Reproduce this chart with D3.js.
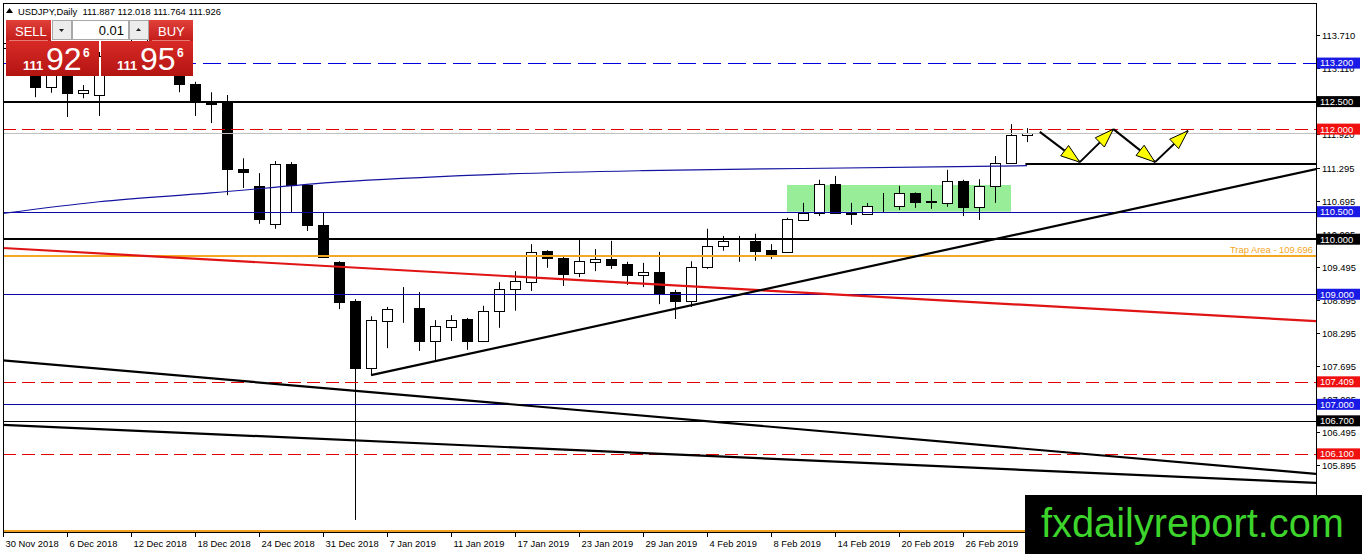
<!DOCTYPE html>
<html><head><meta charset="utf-8">
<script src="https://cdn.jsdelivr.net/npm/d3@7"></script>
<style>
body{margin:0;background:#fff;overflow:hidden;}
svg{display:block;}
text{font-family:Tahoma,"Liberation Sans",Arial,sans-serif;}
</style>
</head><body>
<svg id="c" width="1362" height="554"></svg>
<script>
// ---------------- DATA ----------------
const symbolTitle = "USDJPY,Daily";
const lastQuote = [111.887, 112.018, 111.764, 111.926];
const dates = ["30 Nov 2018","3 Dec 2018","4 Dec 2018","5 Dec 2018","6 Dec 2018","7 Dec 2018","10 Dec 2018","11 Dec 2018","12 Dec 2018","13 Dec 2018","14 Dec 2018","17 Dec 2018","18 Dec 2018","19 Dec 2018","20 Dec 2018","21 Dec 2018","24 Dec 2018","26 Dec 2018","27 Dec 2018","28 Dec 2018","31 Dec 2018","2 Jan 2019","3 Jan 2019","4 Jan 2019","7 Jan 2019","8 Jan 2019","9 Jan 2019","10 Jan 2019","11 Jan 2019","14 Jan 2019","15 Jan 2019","16 Jan 2019","17 Jan 2019","18 Jan 2019","21 Jan 2019","22 Jan 2019","23 Jan 2019","24 Jan 2019","25 Jan 2019","28 Jan 2019","29 Jan 2019","30 Jan 2019","31 Jan 2019","1 Feb 2019","4 Feb 2019","5 Feb 2019","6 Feb 2019","7 Feb 2019","8 Feb 2019","11 Feb 2019","12 Feb 2019","13 Feb 2019","14 Feb 2019","15 Feb 2019","18 Feb 2019","19 Feb 2019","20 Feb 2019","21 Feb 2019","22 Feb 2019","25 Feb 2019","26 Feb 2019","27 Feb 2019","28 Feb 2019","1 Mar 2019","4 Mar 2019"];
const openP  = [113.47,113.60,113.63,112.77,113.18,112.66,112.62,113.32,113.38,113.53,113.61,113.35,112.82,112.51,112.47,111.28,110.97,110.28,111.37,110.98,110.26,109.58,108.88,107.66,108.51,108.73,108.75,108.15,108.40,108.55,108.15,108.70,109.10,109.22,109.79,109.66,109.39,109.59,109.64,109.55,109.35,109.41,109.04,108.88,109.50,109.88,109.97,109.97,109.81,109.77,110.35,110.48,111.00,110.48,110.46,110.62,110.61,110.84,110.68,110.66,111.06,110.59,110.97,111.39,111.887];
const highP  = [113.83,113.83,113.71,113.23,113.26,112.80,113.40,113.56,113.69,113.70,113.72,113.45,112.86,112.67,112.62,111.47,111.20,111.42,111.40,111.00,110.49,109.60,108.91,108.60,108.77,109.13,109.04,108.53,108.62,108.57,108.79,109.22,109.42,109.91,109.80,109.70,109.99,109.82,109.97,109.59,109.57,109.77,109.08,109.60,110.19,110.06,110.06,110.10,109.91,110.39,110.66,111.08,111.15,110.66,110.66,110.84,110.97,110.85,110.91,111.26,111.08,111.09,111.51,112.09,112.018];
const lowP   = [113.37,113.42,112.58,112.66,112.22,112.56,112.24,113.15,113.26,113.36,113.31,112.67,112.24,112.11,110.80,110.93,110.28,110.19,110.48,110.15,109.66,108.73,104.90,107.53,108.02,108.48,107.97,107.79,108.15,107.99,108.13,108.39,108.70,109.06,109.48,109.15,109.31,109.42,109.46,109.17,109.13,108.82,108.55,108.77,109.46,109.79,109.59,109.61,109.64,109.75,110.34,110.42,110.47,110.26,110.45,110.48,110.53,110.57,110.55,110.59,110.42,110.35,110.66,111.37,111.764];
const closeP = [113.57,113.63,112.77,113.18,112.66,112.71,113.32,113.38,113.53,113.61,113.39,112.82,112.51,112.46,111.28,111.22,110.37,111.37,110.98,110.26,109.68,108.86,107.66,108.53,108.73,108.74,108.15,108.42,108.53,108.15,108.70,109.10,109.24,109.77,109.66,109.37,109.61,109.64,109.53,109.35,109.41,109.02,108.88,109.50,109.88,109.97,109.96,109.79,109.73,110.37,110.48,111.00,110.48,110.46,110.61,110.62,110.84,110.68,110.69,111.06,110.59,110.97,111.39,111.89,111.926];
const xLabelEvery = 4;
const xLabelCount = 16;
const yTickValues = [113.710,113.110,112.515,111.920,111.295,110.695,110.095,109.495,108.895,108.295,107.695,107.095,106.495,105.895,105.295];
// horizontal levels and their kind
const levelPrices = [113.200,112.500,112.000,111.926,110.500,110.000,109.696,109.000,107.409,107.000,106.700,106.100,104.700];
const levelKinds  = ["blueDash","black2","redDash","bid","blue","black2","trap","blue","redDash","blue","black1","redDash","orange"];
const trapLabel = "Trap Area - 109.696";
// moving average (bar index, price)
const maIndex = [-0.2, 6, 13, 21, 30, 40, 50, 64];
const maValues = [110.46, 110.68, 110.84, 111.04, 111.17, 111.245, 111.285, 111.335];
// trend lines [barIndex0, price0, barIndex1, price1]
const redTrend   = [0, 109.84, 80, 108.545];
const upTrend    = [23, 107.53, 82, 111.27];
const downTrend1 = [0, 107.80, 80, 105.787];
const downTrend2 = [0, 106.627, 80, 105.60];
// support line starting at bar index
const supportLine = [63.9, 111.37];
// consolidation box [barIndex0, barIndex1, priceLow, priceHigh]
const greenBox = [49, 63, 110.50, 110.985];
// projected path (bar index, price)
const pathIdx = [64.8, 67.3, 69.4, 72.0, 74.06];
const pathPrice = [111.95, 111.40, 112.00, 111.40, 111.97];
// trade panel
const lotSize = "0.01";
const sellQuote = ["111", "92", "6"];
const buyQuote  = ["111", "95", "6"];
const watermark = "fxdailyreport.com";

// ---------------- SCALES ----------------
const svg = d3.select("#c");
const P = {l:3, t:3, r:1316, b:532};
const x = d3.scaleLinear().domain([0, 60]).range([3, 963]);
const y = d3.scaleLinear().domain([113.71, 109.495]).range([35, 267]);
const idxLeft = x.invert(P.l - 2), idxRight = x.invert(P.r + 2);

svg.append("rect").attr("width",1362).attr("height",554).attr("fill","#fff");
const defs = svg.append("defs");
defs.append("clipPath").attr("id","plotClip").append("rect")
  .attr("x",P.l).attr("y",P.t).attr("width",P.r-P.l).attr("height",P.b-P.t);
const g = svg.append("g").attr("clip-path","url(#plotClip)");

// background green box
g.append("rect")
  .attr("x", x(greenBox[0])).attr("width", x(greenBox[1]) - x(greenBox[0]))
  .attr("y", y(greenBox[3])).attr("height", y(greenBox[2]) - y(greenBox[3]))
  .attr("fill", "#98ee98");

// candles
const candles = g.append("g");
const data = dates.map((d,i)=>({i, o:openP[i], h:highP[i], l:lowP[i], c:closeP[i]}));
data.forEach(d=>{
  const cx = Math.round(x(d.i)) + 0.5;
  candles.append("line").attr("x1",cx).attr("x2",cx)
    .attr("y1",y(d.h)).attr("y2",y(d.l)).attr("stroke","#000").attr("stroke-width",1);
  const top = Math.round(y(Math.max(d.o,d.c))) + 0.5;
  const bot = Math.round(y(Math.min(d.o,d.c))) + 0.5;
  const up = d.c > d.o;
  candles.append("rect").attr("x", cx-5).attr("width",10)
    .attr("y", top).attr("height", Math.max(0, bot-top))
    .attr("fill", up ? "#fff" : "#000").attr("stroke","#000").attr("stroke-width",1);
});

// horizontal levels
const kindStyle = {
  blueDash:{stroke:"#0000e0", w:1, dash:"18,7", box:"#1a1ae6", txt:"#fff"},
  black2:{stroke:"#000", w:2, dash:null, box:"#000", txt:"#fff"},
  redDash:{stroke:"#e00000", w:1, dash:"13,6", box:"#f01010", txt:"#fff"},
  bid:{stroke:"#c0c0c0", w:1, dash:null, box:null},
  blue:{stroke:"#0a0aa8", w:1, dash:null, box:"#1a1ae6", txt:"#fff"},
  black1:{stroke:"#000", w:1, dash:null, box:"#000", txt:"#fff"},
  trap:{stroke:"#f5a623", w:2, dash:null, box:null},
  orange:{stroke:"#f0a020", w:3, dash:null, box:null}
};
levelPrices.forEach((p,k)=>{
  const s = kindStyle[levelKinds[k]];
  const yy = s.w === 1 ? Math.round(y(p)) + 0.5 : Math.round(y(p));
  const ln = g.append("line").attr("x1",P.l).attr("x2",P.r).attr("y1",yy).attr("y2",yy)
    .attr("stroke",s.stroke).attr("stroke-width",s.w).attr("shape-rendering","crispEdges");
  if (s.dash) ln.attr("stroke-dasharray", s.dash);
});
g.append("text").attr("x", P.r - 3).attr("y", y(levelPrices[6]) - 3)
  .attr("text-anchor","end").attr("font-size",9.4).attr("fill","#f5a623").text(trapLabel);

// trend lines
function extLine(tl, i0, i1, color, w){
  const slope = (tl[3]-tl[1])/(tl[2]-tl[0]);
  const pAt = i => tl[1] + slope*(i - tl[0]);
  g.append("line").attr("x1",x(i0)).attr("y1",y(pAt(i0))).attr("x2",x(i1)).attr("y2",y(pAt(i1)))
    .attr("stroke",color).attr("stroke-width",w);
}
extLine(downTrend1, idxLeft, idxRight, "#000", 2.2);
extLine(downTrend2, idxLeft, idxRight, "#000", 2.2);
extLine(redTrend, idxLeft, idxRight, "#e01414", 2.2);
extLine(upTrend, upTrend[0], idxRight, "#000", 2.2);

// moving average
g.append("path").datum(maIndex.map((v,k)=>[v, maValues[k]]))
  .attr("d", d3.line().x(d=>x(d[0])).y(d=>y(d[1])).curve(d3.curveMonotoneX))
  .attr("fill","none").attr("stroke","#1414a0").attr("stroke-width",1.2);

// support line
g.append("line").attr("x1",x(supportLine[0])).attr("x2",P.r)
  .attr("y1",Math.round(y(supportLine[1]))).attr("y2",Math.round(y(supportLine[1])))
  .attr("stroke","#000").attr("stroke-width",2.2);

// projected arrows
for (let k=0;k<pathIdx.length-1;k++){
  const x0=x(pathIdx[k]), y0=y(pathPrice[k]), x1=x(pathIdx[k+1]), y1=y(pathPrice[k+1]);
  g.append("line").attr("x1",x0).attr("y1",y0).attr("x2",x1).attr("y2",y1)
    .attr("stroke","#000").attr("stroke-width",2);
  const ang = Math.atan2(y1-y0, x1-x0);
  const L=19, Wd=6.5;
  const bx = x1 - L*Math.cos(ang), by = y1 - L*Math.sin(ang);
  const px = -Math.sin(ang), py = Math.cos(ang);
  const pts = [[x1,y1],[bx+px*Wd,by+py*Wd],[bx-px*Wd,by-py*Wd]];
  g.append("polygon").attr("points", pts.map(p=>p.join(",")).join(" "))
    .attr("fill","#ffff00").attr("stroke","#000").attr("stroke-width",1);
}

// frame
svg.append("rect").attr("x",P.l+0.5).attr("y",P.t+0.5).attr("width",P.r-P.l).attr("height",P.b-P.t)
  .attr("fill","none").attr("stroke","#000").attr("stroke-width",1);

// y axis ticks
const ya = svg.append("g");
yTickValues.forEach(v=>{
  const yy = Math.round(y(v))+0.5;
  ya.append("line").attr("x1",P.r).attr("x2",P.r+4).attr("y1",yy).attr("y2",yy).attr("stroke","#000");
  ya.append("text").attr("x",P.r+6).attr("y",yy).attr("dy","0.35em").attr("font-size",9.4)
    .attr("fill","#000").text(d3.format(".3f")(v));
});
// level price boxes
levelPrices.forEach((p,k)=>{
  const s = kindStyle[levelKinds[k]];
  if (!s.box) return;
  const yy = y(p);
  ya.append("rect").attr("x",P.r+1).attr("y",yy-5.5).attr("width",43).attr("height",11).attr("fill",s.box);
  ya.append("text").attr("x",P.r+4).attr("y",yy).attr("dy","0.36em").attr("font-size",9.4)
    .attr("fill",s.txt).text(d3.format(".3f")(p));
});

// x axis
const xa = svg.append("g");
dates.forEach((d,i)=>{
  if (i % xLabelEvery !== 0 || i / xLabelEvery >= xLabelCount) return;
  const xx = Math.round(x(i))+0.5;
  xa.append("line").attr("x1",xx).attr("x2",xx).attr("y1",P.b).attr("y2",P.b+5).attr("stroke","#000");
  xa.append("text").attr("x",xx+2).attr("y",P.b+15).attr("font-size",9.4).attr("fill","#000").text(d);
});

// title
svg.append("polygon").attr("points","6,13 9.5,8 13,13").attr("fill","#000");
svg.append("text").attr("x",18).attr("y",14.5).attr("font-size",9.4).attr("fill","#000")
  .style("white-space","pre").text(symbolTitle + "  " + lastQuote.map(v=>d3.format(".3f")(v)).join(" "));

// trade panel
const grad = defs.append("linearGradient").attr("id","redG").attr("x1",0).attr("y1",0).attr("x2",0).attr("y2",1);
grad.append("stop").attr("offset","0%").attr("stop-color","#d82a26");
grad.append("stop").attr("offset","100%").attr("stop-color","#b31412");
const grad2 = defs.append("linearGradient").attr("id","redB").attr("x1",0).attr("y1",0).attr("x2",0).attr("y2",1);
grad2.append("stop").attr("offset","0%").attr("stop-color","#e0403a");
grad2.append("stop").attr("offset","100%").attr("stop-color","#c31c18");
const pan = svg.append("g");
pan.append("rect").attr("x",6).attr("y",20).attr("width",45).attr("height",21).attr("fill","url(#redB)");
pan.append("rect").attr("x",149).attr("y",20).attr("width",44).attr("height",21).attr("fill","url(#redB)");
pan.append("rect").attr("x",6).attr("y",41).attr("width",93).attr("height",35).attr("fill","url(#redG)");
pan.append("rect").attr("x",101).attr("y",41).attr("width",92).attr("height",35).attr("fill","url(#redG)");
pan.append("line").attr("x1",9).attr("x2",48).attr("y1",40.5).attr("y2",40.5).attr("stroke","#e87a74");
pan.append("line").attr("x1",152).attr("x2",190).attr("y1",40.5).attr("y2",40.5).attr("stroke","#e87a74");
pan.append("rect").attr("x",52.5).attr("y",20.5).attr("width",19).attr("height",19).attr("fill","#ececec").attr("stroke","#a8a8a8");
pan.append("rect").attr("x",72.5).attr("y",20.5).attr("width",56).attr("height",19).attr("fill","#fff").attr("stroke","#a8a8a8");
pan.append("rect").attr("x",129.5).attr("y",20.5).attr("width",19).attr("height",19).attr("fill","#ececec").attr("stroke","#a8a8a8");
pan.append("polygon").attr("points","59,29 64,29 61.5,32").attr("fill","#222");
pan.append("polygon").attr("points","136,31 141,31 138.5,28").attr("fill","#222");
pan.append("text").attr("x",124).attr("y",35).attr("text-anchor","end").attr("font-size",13).attr("fill","#000").text(lotSize);
pan.append("text").attr("x",15).attr("y",35.5).attr("font-size",13).attr("fill","#fff").text("SELL");
pan.append("text").attr("x",158).attr("y",35.5).attr("font-size",13).attr("fill","#fff").text("BUY");
function quote(q, x0){
  pan.append("text").attr("x",x0).attr("y",70).attr("font-size",13).attr("font-weight","bold").attr("fill","#fff").text(q[0]);
  pan.append("text").attr("x",x0+23).attr("y",70).attr("font-size",32).attr("fill","#fff").text(q[1]);
  pan.append("text").attr("x",x0+60).attr("y",57).attr("font-size",12).attr("font-weight","bold").attr("fill","#fff").text(q[2]);
}
quote(sellQuote, 23);
quote(buyQuote, 117);

// watermark
svg.append("rect").attr("x",1025).attr("y",495).attr("width",337).attr("height",59).attr("fill","#000");
svg.append("text").attr("x",1041).attr("y",537).attr("font-size",41)
  .attr("font-family","'Liberation Sans',Arial,sans-serif")
  .attr("textLength",303).attr("lengthAdjust","spacingAndGlyphs")
  .attr("fill","#3dd42c").text(watermark);
</script>
</body></html>
